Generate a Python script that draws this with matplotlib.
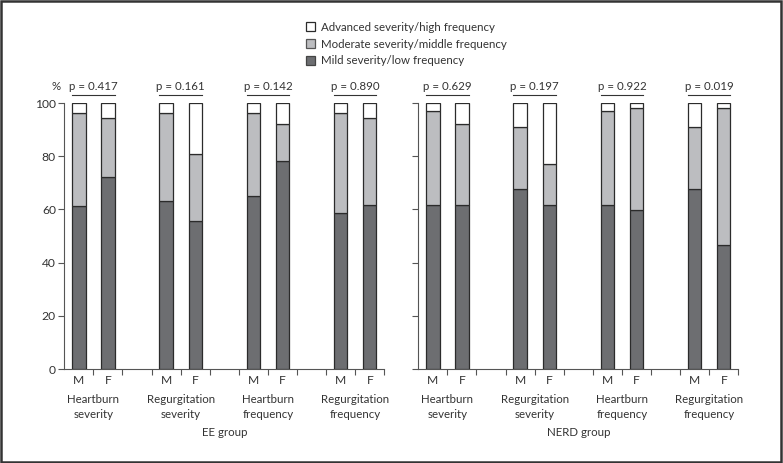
import matplotlib
matplotlib.use("Agg")
import matplotlib.pyplot as plt
from matplotlib.patches import Patch, Rectangle
from matplotlib.transforms import blended_transform_factory
import numpy as np

plt.rcParams['font.family'] = ['Lato', 'DejaVu Sans']

categories = ["Heartburn\nseverity", "Regurgitation\nseverity", "Heartburn\nfrequency", "Regurgitation\nfrequency"]
sexes = ["M", "F"]
groups = ["EE group", "NERD group"]
legend_labels = ["Advanced severity/high frequency", "Moderate severity/middle frequency", "Mild severity/low frequency"]

# order: HS-M, HS-F, RS-M, RS-F, HF-M, HF-F, RF-M, RF-F
ee_mild = [61.2, 72.3, 63.1, 55.5, 64.9, 78.2, 58.8, 61.5]
ee_moderate = [35.0, 22.1, 33.1, 25.2, 31.3, 13.8, 37.4, 32.9]
ee_advanced = [3.8, 5.6, 3.8, 19.3, 3.8, 8.0, 3.8, 5.6]

nerd_mild = [61.6, 61.6, 67.8, 61.6, 61.7, 59.7, 67.8, 46.6]
nerd_moderate = [35.5, 30.6, 23.2, 15.5, 35.4, 38.4, 23.2, 51.5]
nerd_advanced = [2.9, 7.8, 9.0, 22.9, 2.9, 1.9, 9.0, 1.9]

ee_p = ["0.417", "0.161", "0.142", "0.890"]
nerd_p = ["0.629", "0.197", "0.922", "0.019"]

c_mild = "#6d6e71"
c_mod = "#bcbdc0"
c_adv = "#ffffff"
edge = "#2b2b2b"
txt = "#333333"
spine = "#555555"
fs = 8.3

W, H = 783, 463
fig = plt.figure(figsize=(W / 100, H / 100), dpi=100)

ax_h = (369 - 103) / H
ax_b = (H - 369) / H
axL = fig.add_axes([64.3 / W, ax_b, 320 / W, ax_h])
axR = fig.add_axes([418.3 / W, ax_b, 320 / W, ax_h])

datasets = [(axL, ee_mild, ee_moderate, ee_advanced, ee_p, groups[0]),
            (axR, nerd_mild, nerd_moderate, nerd_advanced, nerd_p, groups[1])]

for k, (ax, mild, mod, adv, pv, gname) in enumerate(datasets):
    pos = []
    for i in range(len(categories)):
        pos += [3 * i, 3 * i + 1]
    pos = np.array(pos, dtype=float)
    mild = np.array(mild); mod = np.array(mod); adv = np.array(adv)
    bw = 0.46
    ax.bar(pos, mild, width=bw, color=c_mild, edgecolor=edge, linewidth=0.9, zorder=3)
    ax.bar(pos, mod, width=bw, bottom=mild, color=c_mod, edgecolor=edge, linewidth=0.9, zorder=3)
    ax.bar(pos, adv, width=bw, bottom=mild + mod, color=c_adv, edgecolor=edge, linewidth=0.9, zorder=3)

    ax.set_xlim(-0.5, 10.5)
    ax.set_ylim(0, 100)
    for s in ["top", "right"]:
        ax.spines[s].set_visible(False)
    for s in ["left", "bottom"]:
        ax.spines[s].set_color(spine)
        ax.spines[s].set_linewidth(0.8)
    ax.set_xticks(np.arange(0.5, 11, 1.0))
    ax.set_xticklabels([])
    ax.tick_params(axis='x', direction='out', length=4, width=0.8, color=spine)
    ax.set_yticks(np.arange(0, 101, 20))
    ax.tick_params(axis='y', direction='out', length=4, width=0.8, color=spine,
                   labelsize=fs + 0.4, labelcolor=txt, pad=2)
    if k == 1:
        ax.set_yticklabels([])

    tr = blended_transform_factory(ax.transData, ax.transAxes)
    for i, cat in enumerate(categories):
        for j, s in enumerate(sexes):
            ax.text(3 * i + j, -0.045, s, transform=tr, ha='center', va='center',
                    fontsize=fs + 0.4, color=txt)
        ax.text(3 * i + 0.5, -0.094, cat, transform=tr, ha='center', va='top',
                fontsize=fs, color=txt, linespacing=1.45)
        # p-value bracket
        ax.plot([3 * i - bw / 2, 3 * i + 1 + bw / 2], [103.0, 103.0], color=txt,
                lw=0.8, clip_on=False)
        ax.text(3 * i + 0.5, 104.2, "p = " + pv[i], ha='center', va='bottom',
                fontsize=fs, color=txt, clip_on=False)
    ax.text(0.5, -0.238, gname, transform=ax.transAxes, ha='center', va='center',
            fontsize=fs, color=txt)

fig.text(56 / W, 1 - 86 / H, "%", ha='center', va='center', fontsize=fs, color=txt)

handles = [Patch(facecolor=c_adv, edgecolor=edge, linewidth=0.9),
           Patch(facecolor=c_mod, edgecolor="#555555", linewidth=0.9),
           Patch(facecolor=c_mild, edgecolor="#444444", linewidth=0.9)]
fig.legend(handles, legend_labels, loc='upper left', bbox_to_anchor=(300 / W, 1 - 16 / H),
           frameon=False, fontsize=fs, handlelength=0.8, handleheight=0.8,
           handletextpad=0.55, labelspacing=0.5, borderpad=0, labelcolor=txt)

fig.patches.append(Rectangle((0.001, 0.002), 0.996, 0.995, transform=fig.transFigure,
                             fill=False, edgecolor="#333333", linewidth=1.8))

fig.savefig("out.png", dpi=100, facecolor="white")
